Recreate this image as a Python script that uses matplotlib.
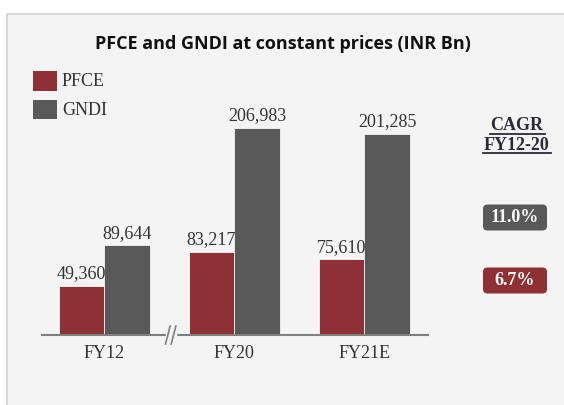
import matplotlib
matplotlib.use("Agg")
import matplotlib.pyplot as plt
from matplotlib.patches import Rectangle, FancyBboxPatch
import numpy as np

categories = ["FY12", "FY20", "FY21E"]
pfce = [49360, 83217, 75610]
gndi = [89644, 206983, 201285]
series_names = ["PFCE", "GNDI"]
cagr_title = ["CAGR", "FY12-20"]
cagr_gndi = "11.0%"
cagr_pfce = "6.7%"
title = "PFCE and GNDI at constant prices (INR Bn)"

RED = "#8f3134"
GRAY = "#595959"
BG = "#f4f4f4"
W, H = 564, 405
FS = 13

fig = plt.figure(figsize=(W / 100, H / 100), dpi=100)
fig.patch.set_facecolor("white")

# panel background with border
fig.patches.append(Rectangle((7 / W, -0.01), 1.02, (H - 14) / H + 0.01,
                             transform=fig.transFigure, facecolor=BG,
                             edgecolor="#d4d4d4", linewidth=1.2, zorder=-10))

ax = fig.add_axes([42 / W, (H - 335) / H, (428 - 42) / W, 250 / H])
ax.set_zorder(5)
ax.set_facecolor("none")
x = np.arange(len(categories))
bw = 0.352
ax.bar(x - bw / 2, pfce, bw, color=RED, edgecolor=BG, linewidth=0.6, label=series_names[0])
ax.bar(x + bw / 2, gndi, bw, color=GRAY, edgecolor=BG, linewidth=0.6, label=series_names[1])
ax.set_xlim(-0.48, 2.49)
ax.set_ylim(0, 250000)

serif = "Liberation Serif"
for i in range(len(categories)):
    ax.text(x[i] - bw / 2, pfce[i] + 3500, f"{pfce[i]:,}", ha="center", va="bottom",
            fontsize=FS, family=serif, color="#333333")
    ax.text(x[i] + bw / 2, gndi[i] + 3500, f"{gndi[i]:,}", ha="center", va="bottom",
            fontsize=FS, family=serif, color="#333333")

for s in ["top", "right", "left"]:
    ax.spines[s].set_visible(False)
ax.spines["bottom"].set_color("#7f7f7f")
ax.spines["bottom"].set_linewidth(1.5)
ax.set_yticks([])
ax.set_xticks(x)
ax.set_xticklabels(categories, family=serif, fontsize=FS, color="#333333")
ax.tick_params(axis="x", length=0, pad=7)

# axis break mark
bx = 0.51
ax.plot([bx - 0.03, bx + 0.03], [0, 0], color=BG, lw=2.5, clip_on=False, zorder=3)
for dx in (-0.022, 0.022):
    ax.plot([bx + dx - 0.018, bx + dx + 0.018], [-9000, 9000], color="#7f7f7f",
            lw=1.2, clip_on=False, zorder=4)

# title
fig.text(283 / W, 1 - 44 / H, title, ha="center", va="center", fontsize=13,
         fontweight="bold", family="Open Sans", color="#111111")

# legend
for k, (nm, col) in enumerate(zip(series_names, [RED, GRAY])):
    yc = 81 + k * 28.5
    fig.patches.append(Rectangle((33 / W, 1 - (yc + 9.5) / H), 24 / W, 19 / H,
                                 transform=fig.transFigure, facecolor=col, edgecolor="none"))
    fig.text(62 / W, 1 - (yc + 1) / H, nm, ha="left", va="center", fontsize=FS,
             family=serif, color="#333333")

# CAGR header
for k, t in enumerate(cagr_title):
    yc = 126 + k * 19
    fig.text(517 / W, 1 - yc / H, t, ha="center", va="center", fontsize=FS,
             family=serif, fontweight="bold", color="#2a2a3a")
for x0, x1, yu in [(490, 545, 134), (483, 551, 153)]:
    fig.lines.append(plt.Line2D([x0 / W, x1 / W], [1 - yu / H, 1 - yu / H],
                                transform=fig.transFigure, color="#2a2a3a", lw=1.3))

# CAGR boxes
for label, col, yc in [(cagr_gndi, GRAY, 217.5), (cagr_pfce, RED, 280.5)]:
    fig.patches.append(FancyBboxPatch((483 / W, 1 - (yc + 13) / H), 64 / W, 26 / H,
                                      boxstyle="round,pad=0,rounding_size=0.008",
                                      transform=fig.transFigure, facecolor=col,
                                      edgecolor="none", mutation_aspect=W / H))
    fig.text(515 / W, 1 - yc / H, label, ha="center", va="center", fontsize=FS,
             family=serif, fontweight="bold", color="white")

fig.savefig("out.png", dpi=100, facecolor=fig.get_facecolor())
